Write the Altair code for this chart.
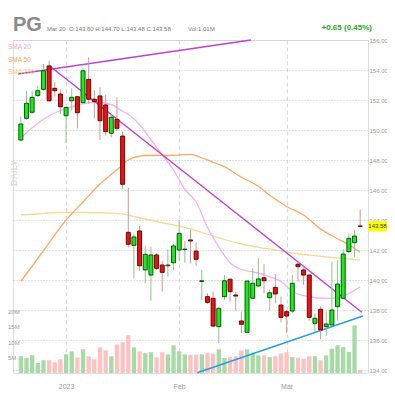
import altair as alt
import pandas as pd

FONT = "Liberation Sans, Arial, sans-serif"

# ---- daily candles (index 0 = Dec 20 2022 ... index 60 = Mar 20 2023) ----
idx = list(range(61))
opens = [149.33, 150.78, 151.18, 152.29, 152.71, 154.27, 152.78, 152.40, 150.95, 151.95,
         152.22, 151.82, 153.38, 152.05, 152.27, 151.67, 149.78, 150.71, 149.60, 143.18,
         142.31, 143.27, 140.67, 140.33, 141.67, 141.00, 140.95, 141.15, 142.00, 142.02,
         142.67, 141.93, 139.90, 138.89, 138.78, 136.89, 138.89, 140.05, 139.00, 137.27,
         136.51, 138.78, 139.60, 140.15, 138.82, 139.51, 138.33, 137.89, 137.93, 141.05,
         140.67, 140.33, 137.11, 138.05, 136.89, 137.00, 138.22, 138.78, 141.89, 142.49,
         143.60]
highs = [150.89, 152.60, 152.62, 152.95, 154.40, 154.60, 153.18, 152.71, 151.55, 152.78,
         152.22, 154.13, 154.85, 152.67, 152.85, 152.33, 151.00, 152.18, 149.89, 146.15,
         143.11, 143.60, 142.27, 142.22, 141.78, 141.29, 142.05, 142.40, 144.00, 142.60,
         143.33, 142.49, 140.67, 139.11, 139.22, 138.18, 140.33, 140.11, 139.22, 137.89,
         139.95, 140.78, 141.45, 141.05, 139.38, 140.40, 138.89, 138.00, 140.33, 141.22,
         140.89, 140.33, 137.78, 138.27, 137.89, 141.22, 141.33, 142.05, 143.11, 143.33,
         144.70]
lows = [149.22, 150.67, 151.07, 152.22, 152.62, 151.89, 152.22, 151.07, 149.11, 151.29,
        150.11, 151.78, 151.73, 150.78, 149.33, 149.62, 149.51, 149.95, 146.05, 142.18,
        140.11, 140.62, 139.78, 138.62, 140.67, 139.22, 140.22, 140.67, 141.29, 141.15,
        141.11, 140.93, 138.67, 138.40, 136.89, 135.78, 138.67, 138.55, 137.95, 136.45,
        136.51, 138.78, 139.55, 139.11, 138.00, 138.45, 137.18, 136.45, 137.78, 139.89,
        139.67, 137.29, 136.55, 136.05, 136.27, 137.00, 137.29, 138.71, 141.78, 141.55,
        143.48]
closes = [150.40, 151.78, 152.18, 152.62, 153.95, 151.95, 152.62, 151.55, 151.51, 152.18,
          151.15, 153.95, 152.05, 151.89, 150.62, 149.89, 150.85, 150.11, 146.38, 142.38,
          142.87, 140.95, 141.71, 141.67, 140.78, 140.51, 141.00, 142.27, 143.11, 142.06,
          142.60, 141.38, 139.95, 138.51, 136.93, 138.11, 139.95, 139.22, 138.93, 137.05,
          139.93, 139.78, 140.07, 139.95, 139.15, 139.07, 137.51, 137.60, 139.78, 140.89,
          140.33, 137.51, 137.45, 136.67, 137.07, 138.00, 139.73, 141.73, 142.78, 142.93,
          143.58]
volumes_m = [5.5, 4.9, 5.8, 3.3, 4.2, 4.2, 3.5, 4.5, 6.1, 7.1,
             5.1, 7.8, 5.5, 4.5, 8.4, 7.4, 5.5, 9.4, 10.1, 12.4,
             8.4, 7.1, 6.5, 6.8, 5.1, 6.8, 6.1, 9.1, 7.1, 6.1,
             6.0, 6.0, 6.1, 6.6, 6.4, 7.8, 4.9, 5.2, 5.5, 7.4,
             7.8, 6.7, 5.8, 5.8, 5.2, 5.5, 6.4, 6.8, 5.2, 5.0,
             4.7, 5.5, 5.5, 4.2, 5.8, 8.0, 9.1, 8.5, 6.9, 15.6,
             1.01]

# ---- moving averages (read at selected candle indices) ----
sma20_i = [0, 2, 5, 7, 10, 13, 16, 18, 19, 21, 23, 25, 27, 29, 31, 33, 35, 37, 39, 41,
           44, 46, 48, 51, 54, 56, 58, 60]
sma20_v = [149.45, 150.15, 150.95, 151.3, 151.65, 151.85, 151.7, 151.25, 151.05, 150.35,
           149.35, 148.35, 147.33, 146.05, 145.2, 143.5, 142.2, 141.15, 140.7, 140.55,
           140.22, 139.9, 139.25, 138.88, 138.78, 138.82, 139.1, 139.55]
sma50_i = [0, 4, 8, 11, 14, 17, 19, 22, 28, 30, 32, 34, 36, 39, 42, 44, 47, 50, 53, 56,
           58, 60]
sma50_v = [139.9, 141.95, 144.0, 145.2, 146.4, 147.35, 148.0, 148.3, 148.33, 148.38,
           148.15, 147.85, 147.55, 146.85, 146.25, 145.65, 144.9, 144.33, 143.4, 142.75,
           142.35, 141.85]
sma200_i = [0, 3, 6, 11, 17, 19, 21, 24, 27, 30, 33, 36, 39, 42, 46, 49, 52, 55, 58, 60]
sma200_v = [144.35, 144.4, 144.5, 144.5, 144.44, 144.33, 144.15, 143.9, 143.67, 143.4,
            143.05, 142.7, 142.4, 142.18, 141.95, 141.75, 141.62, 141.5, 141.4, 141.33]

# ---- drawn trend lines (two anchor points each: candle index, price) ----
resist_i = [-0.5, 40.7]
resist_v = [153.73, 156.0]
down_i = [5, 60.3]
down_v = [154.3, 137.85]
support_i = [31.2, 60.5]
support_v = [133.82, 137.6]

month_ticks = [8, 28, 47]
month_labels = ["2023", "Feb", "Mar"]
price_ticks = list(range(134, 157, 2))
vol_ticks = [5, 10, 15, 20]

df = pd.DataFrame(dict(i=idx, o=opens, h=highs, l=lows, c=closes, v=volumes_m))
one = pd.DataFrame({"a": [0]})

W, H = 355, 333
X_SCALE = alt.Scale(domain=[-0.5, 60.5], nice=False, zero=False)
Y_SCALE = alt.Scale(domain=[133.8, 156.0], nice=False, zero=False)
V_SCALE = alt.Scale(domain=[0, 109.2], nice=False, zero=False)

label_expr = " : ".join(
    f"datum.value == {t} ? '{l}'" for t, l in zip(month_ticks[:-1], month_labels[:-1])
) + f" : '{month_labels[-1]}'"

x_axis = alt.Axis(values=month_ticks, labelExpr=label_expr, grid=True, gridColor="#dadada",
                  gridDash=[4, 3], gridWidth=1.2, domain=False, ticks=False,
                  labelFont=FONT, labelFontSize=7, labelColor="#999", labelPadding=9,
                  title=None)
y_axis = alt.Axis(orient="right", values=price_ticks, format=".2f", grid=True,
                  gridColor="#c4c4c4", gridDash=[1, 2], domain=False, ticks=False,
                  labelFont=FONT, labelFontSize=6, labelColor="#999", labelPadding=1,
                  title=None)


def XQ():
    return alt.X("i:Q", scale=X_SCALE, axis=x_axis)


def YQ(field):
    return alt.Y(field, scale=Y_SCALE, axis=y_axis)


def line(ix, vals, color, width=1.3, interp="monotone"):
    d = pd.DataFrame({"i": ix, "p": vals})
    return alt.Chart(d).mark_line(color=color, strokeWidth=width, interpolate=interp).encode(
        x=XQ(), y=YQ("p:Q"))


def txt(s, x, y, **kw):
    return alt.Chart(one).mark_text(text=s, font=FONT, **kw).encode(
        x=alt.value(x), y=alt.value(y))


sma200 = line(sma200_i, sma200_v, "#f7d996")
sma50 = line(sma50_i, sma50_v, "#ffa866")
sma20 = line(sma20_i, sma20_v, "#efb3ef")
t_res = line(resist_i, resist_v, "#b845cc", 1.5, "linear")
t_down = line(down_i, down_v, "#b845cc", 1.5, "linear")
t_sup = line(support_i, support_v, "#2a9de0", 1.5, "linear")

wicks = alt.Chart(df).transform_calculate(
    wc="datum.c >= datum.o ? '#93bf93' : '#c99a9a'"
).mark_rule(strokeWidth=1).encode(
    x=XQ(), y=YQ("l:Q"), y2="h:Q", color=alt.Color("wc:N", scale=None),
)
bodies = alt.Chart(df).transform_calculate(
    bf="datum.c >= datum.o ? '#14f014' : '#f01010'",
    bs="datum.c >= datum.o ? '#0b3d0b' : '#4d0000'",
).mark_bar(size=4, strokeWidth=0.9).encode(
    x=XQ(), y=YQ("o:Q"), y2="c:Q",
    fill=alt.Fill("bf:N", scale=None),
    stroke=alt.Stroke("bs:N", scale=None),
)

last = df.iloc[[-1]]
tag_bg = alt.Chart(last).mark_point(
    shape="M-1,-0.53H1V0.53H-1Z", filled=True, color="#ffff00", opacity=1, size=361
).encode(x=alt.value(W + 9.5), y=YQ("c:Q"))
tag_tx = alt.Chart(last).mark_text(font=FONT, fontSize=6, color="#333", baseline="middle",
                                   align="center").encode(
    x=alt.value(W + 9.5), y=YQ("c:Q"), text=alt.Text("c:Q", format=".2f"))

header = [
    txt("PG", 0, -9, fontSize=20, fontWeight="bold", color="#8a8a8a", align="left",
        baseline="alphabetic"),
    txt("Mar 20", 34, -11, fontSize=6, color="#777", align="left", baseline="middle"),
    txt(f"O:{opens[-1]:.2f} H:{highs[-1]:.2f} L:{lows[-1]:.2f} C:{closes[-1]:.2f}", 56, -11,
        fontSize=6, color="#777", align="left", baseline="middle"),
    txt(f"Vol:{volumes_m[-1]:.2f}M", 175, -11, fontSize=6, color="#777", align="left",
        baseline="middle"),
    txt("+0.65 (0.45%)", 359, -12, fontSize=8, fontWeight="bold", color="#2aa52a",
        align="right", baseline="middle"),
    txt("SMA 20", -5, 7, fontSize=6.5, color="#e9a6e9", align="left", baseline="middle"),
    txt("SMA 50", -5, 20, fontSize=6.5, color="#ffa060", align="left", baseline="middle"),
    txt("SMA 200", -5, 32, fontSize=6.5, color="#f2c97a", align="left", baseline="middle"),
    txt("DAILY", 1, 133, fontSize=9, fontWeight="bold", color="#dcdcdc", angle=270,
        align="center", baseline="middle"),
]

vol_bars = alt.Chart(df).transform_calculate(
    vc="datum.c >= datum.o ? '#a6daa6' : '#ffc2c2'"
).mark_bar(size=4.3).encode(
    x=XQ(), y=alt.Y("v:Q", scale=V_SCALE, axis=None), color=alt.Color("vc:N", scale=None))
vol_lab = alt.Chart(pd.DataFrame({"vl": vol_ticks})).transform_calculate(
    lab="datum.vl + 'M'"
).mark_text(font=FONT, fontSize=6, color="#999", align="left", baseline="middle").encode(
    x=alt.value(-5), y=alt.Y("vl:Q", scale=V_SCALE, axis=None), text="lab:N")

vol_layer = alt.layer(vol_bars, vol_lab)
price_layer = alt.layer(sma200, sma50, sma20, t_res, t_down, t_sup, wicks, bodies,
                        tag_bg, tag_tx, *header)

chart = alt.layer(vol_layer, price_layer).resolve_scale(y="independent").properties(
    width=W, height=H,
    autosize=alt.AutoSizeParams(type="none"),
    padding={"left": 5, "top": 32, "right": 379 - 5 - W, "bottom": 22},
).configure_view(stroke=None).configure(background="white")

chart.save("out.html", embed_options={"renderer": "svg", "actions": False})
